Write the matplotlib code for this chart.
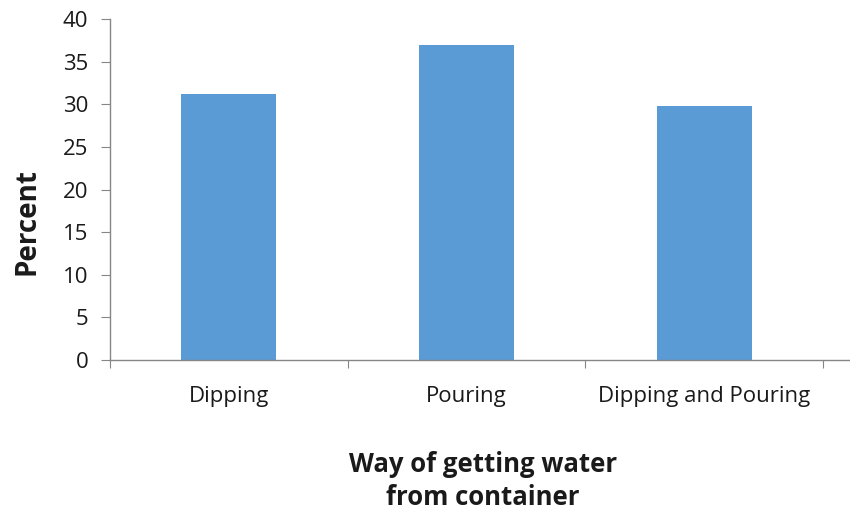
import matplotlib
matplotlib.use("Agg")
import matplotlib.pyplot as plt

# values
categories = ["Dipping", "Pouring", "Dipping and Pouring"]
percent = [31.2, 36.9, 29.8]
y_ticks = [0, 5, 10, 15, 20, 25, 30, 35, 40]

BAR = "#5b9bd5"
AXIS = "#868686"
INK = "#1a1a1a"

plt.rcParams["font.family"] = ["Open Sans", "DejaVu Sans"]

fig = plt.figure(figsize=(8.5, 5.12), dpi=100)
ax = fig.add_axes([110 / 850, 152 / 512, 740 / 850, 341 / 512])

x = list(range(len(categories)))
ax.bar(x, percent, width=0.4, color=BAR, zorder=2)

ax.set_ylim(0, 40)
ax.set_yticks(y_ticks)
ax.set_xlim(-0.5, 2.5 + 27 / 237.7)

# boundary ticks between categories, labels centred on bars
ax.set_xticks([-0.5, 0.5, 1.5, 2.5])
ax.set_xticklabels([])
ax.set_xticks(x, minor=True)
ax.set_xticklabels(categories, minor=True)
ax.tick_params(axis="x", which="minor", length=0, pad=19, labelsize=16,
               labelcolor=INK)
ax.tick_params(axis="x", which="major", length=6, color=AXIS, direction="out")
ax.tick_params(axis="y", length=6.5, color=AXIS, labelsize=16, labelcolor=INK,
               pad=9)

for side in ("top", "right"):
    ax.spines[side].set_visible(False)
for side in ("left", "bottom"):
    ax.spines[side].set_color(AXIS)
    ax.spines[side].set_linewidth(1.0)

fig.text(27 / 850, 1 - 222 / 512, "Percent", rotation=90, ha="center",
         va="center", fontsize=20, fontweight="bold", color=INK)
fig.text(483 / 850, 1 - 481 / 512, "Way of getting water\nfrom container",
         ha="center", va="center", fontsize=18.5, fontweight="bold",
         color=INK, linespacing=1.3)

fig.savefig("out.png", dpi=100)
